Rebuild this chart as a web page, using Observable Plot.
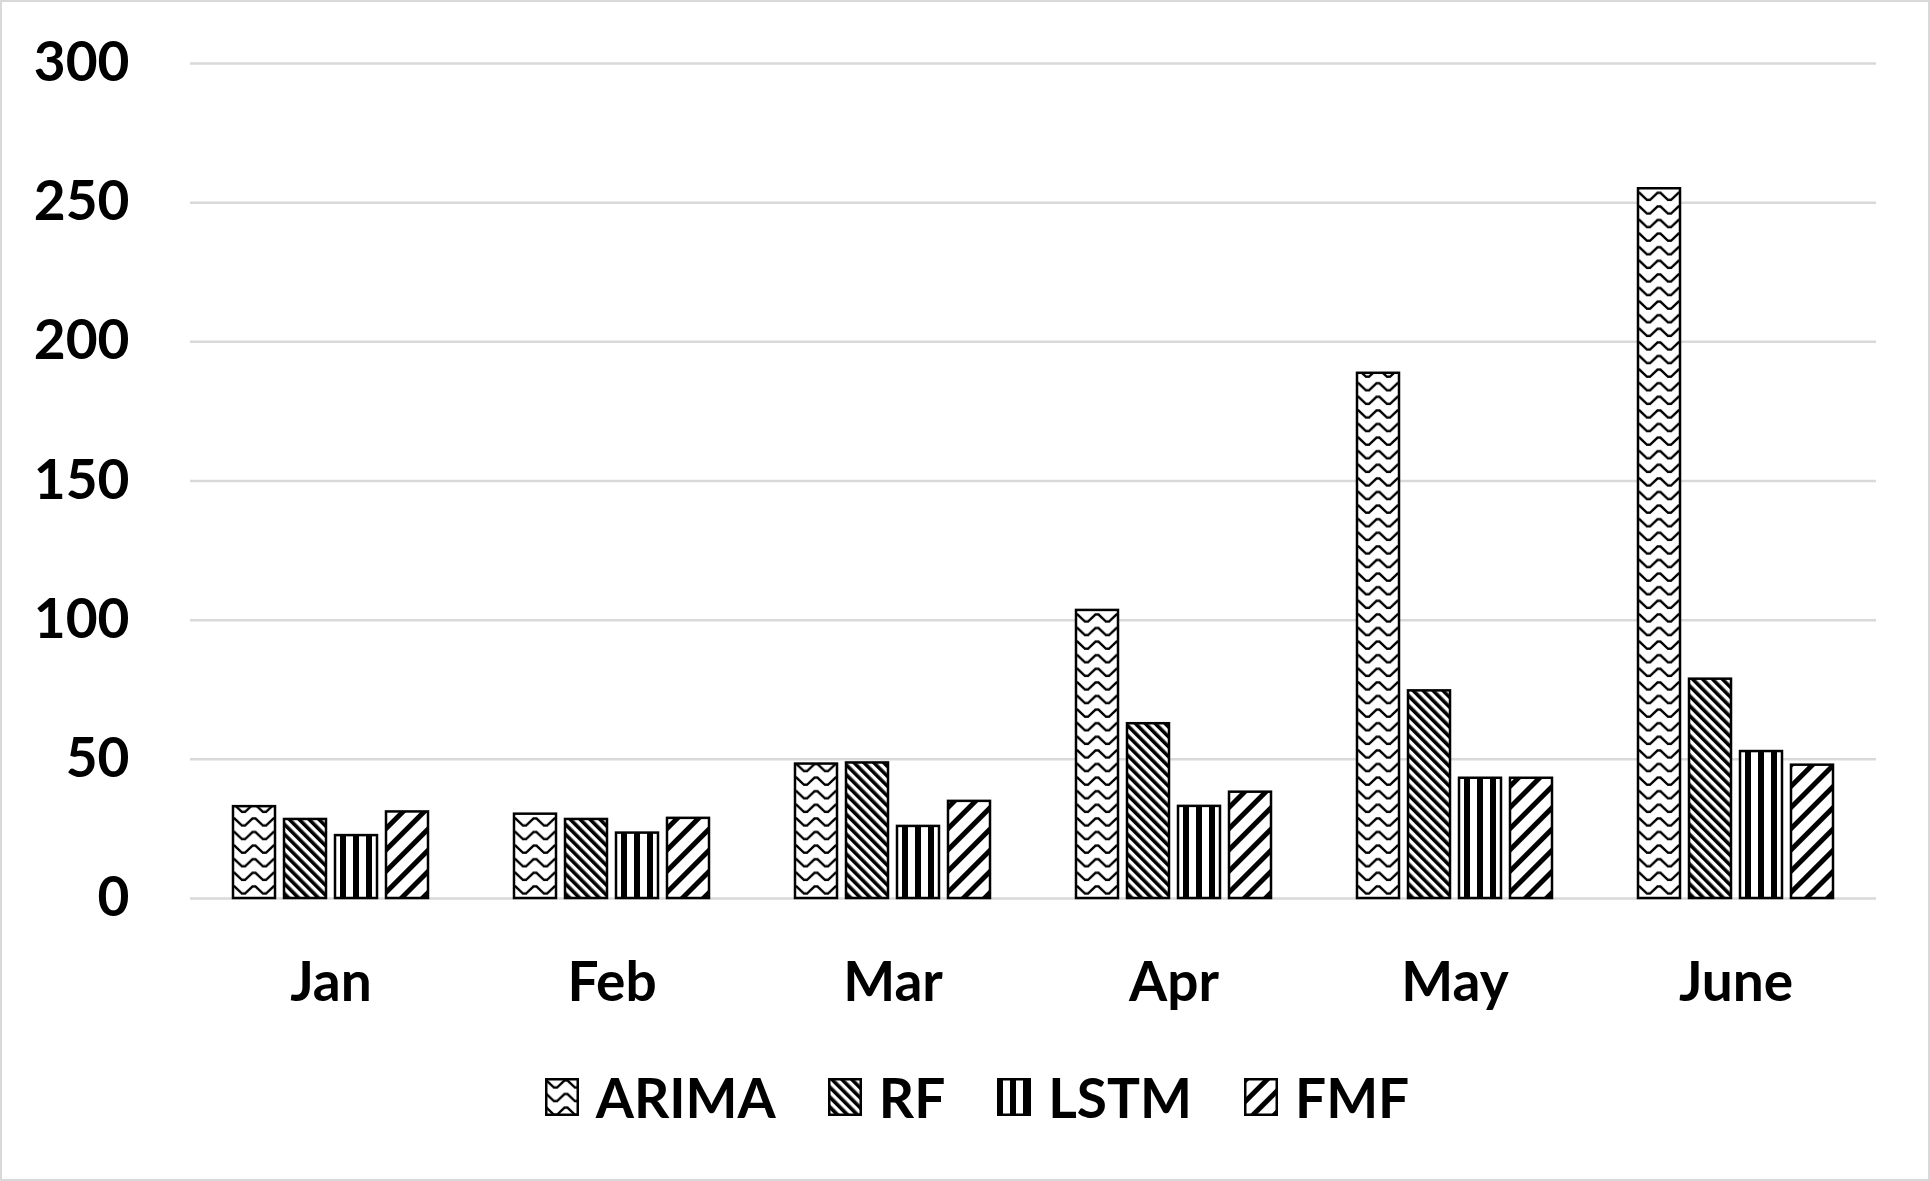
<!DOCTYPE html>
<html>
<head>
<meta charset="utf-8">
<script src="https://cdn.jsdelivr.net/npm/d3@7"></script>
<script src="https://cdn.jsdelivr.net/npm/@observablehq/plot@0.6"></script>
<style>
  html, body { margin: 0; padding: 0; background: #fff; }
  #wrap { position: relative; width: 1930px; height: 1181px; overflow: hidden; background: #fff; }
  #frame { position: absolute; left: 0; top: 0; width: 1930px; height: 1181px; box-sizing: border-box; border: 2px solid #d9d9d9; pointer-events: none; }
  #legend { position: absolute; left: 12px; top: 1078px; width: 1930px; height: 38px; display: flex; justify-content: center; align-items: center;
            font-family: Lato, sans-serif; font-weight: 700; font-size: 55px; color: #000; }
  .item { display: flex; align-items: center; margin: 0 26px; }
  .item svg { margin-right: 17px; overflow: visible; }
  .item span { line-height: 38px; }
</style>
</head>
<body>
<div id="wrap">
  <div id="chart"></div>
  <div id="legend"></div>
  <div id="frame"></div>
</div>
<script>
const months = ["Jan", "Feb", "Mar", "Apr", "May", "June"];
const series = ["ARIMA", "RF", "LSTM", "FMF"];
const arima = [33, 30.3, 48.3, 103.5, 188.7, 255];
const rf    = [28.4, 28.4, 48.7, 62.8, 74.6, 78.8];
const lstm  = [22.6, 23.5, 25.9, 33.1, 43.2, 52.8];
const fmf   = [31.1, 28.8, 34.9, 38.2, 43.2, 47.9];
const yTicks = [0, 50, 100, 150, 200, 250, 300];

const values = {ARIMA: arima, RF: rf, LSTM: lstm, FMF: fmf};
const rows = [];
months.forEach((m, i) => series.forEach(s => rows.push({month: m, series: s, value: values[s][i]})));

const patId = s => `pat-${s}`;

const svg = Plot.plot({
  width: 1930,
  height: 1050,
  marginLeft: 188,
  marginRight: 53,
  marginTop: 63,
  marginBottom: 152,
  style: {fontFamily: "Lato, sans-serif", fontSize: "55px", fontWeight: "700", color: "#000", background: "transparent", overflow: "visible"},
  fx: {domain: months, padding: 0, label: null},
  x: {domain: series, paddingInner: 0.17, paddingOuter: 0.82, axis: null},
  y: {domain: [0, 300], axis: null},
  marks: [
    Plot.gridY(yTicks, {stroke: "#d9d9d9", strokeOpacity: 1, strokeWidth: 2.5}),
    Plot.axisY(yTicks, {tickSize: 0, tickPadding: 61, label: null, fontSize: 55}),
    Plot.axisFx({anchor: "bottom", tickSize: 0, tickPadding: 63, label: null, fontSize: 55}),
    ...series.map(s => Plot.barY(rows.filter(r => r.series === s), {
      fx: "month", x: "series", y: "value",
      fill: `url(#${patId(s)})`, stroke: "#000", strokeWidth: 2.5
    }))
  ]
});

// Pattern definitions
const defs = d3.select(svg).insert("defs", ":first-child");
function pattern(id, w, h, transform) {
  const p = defs.append("pattern").attr("id", id).attr("patternUnits", "userSpaceOnUse")
    .attr("width", w).attr("height", h);
  if (transform) p.attr("patternTransform", transform);
  p.append("rect").attr("width", w).attr("height", h).attr("fill", "#fff");
  return p;
}
// ARIMA: zig zag rows (chevrons)
pattern(patId("ARIMA"), 21, 13.6).append("path")
  .attr("d", "M-1,2.5 H1.5 L9,9.5 H12 L19.5,2.5 H22")
  .attr("fill", "none").attr("stroke", "#000").attr("stroke-width", 2.4)
  .attr("stroke-linejoin", "miter");
// RF: dense "\" stripes
pattern(patId("RF"), 7, 7, "rotate(-45)").append("rect")
  .attr("x", 0).attr("y", 0).attr("width", 3.6).attr("height", 7).attr("fill", "#000");
// LSTM: vertical stripes
pattern(patId("LSTM"), 13, 13).append("rect")
  .attr("x", 0).attr("y", 0).attr("width", 6).attr("height", 13).attr("fill", "#000");
// FMF: wide "/" stripes
pattern(patId("FMF"), 15, 15, "rotate(45)").append("rect")
  .attr("x", 0).attr("y", 0).attr("width", 5).attr("height", 15).attr("fill", "#000");

document.getElementById("chart").appendChild(svg);

// Legend
const legend = d3.select("#legend");
series.forEach(s => {
  const item = legend.append("div").attr("class", "item");
  const sw = item.append("svg").attr("width", 34).attr("height", 38);
  sw.append("rect").attr("x", 1.25).attr("y", 1.25).attr("width", 31.5).attr("height", 35.5)
    .attr("fill", `url(#${patId(s)})`).attr("stroke", "#000").attr("stroke-width", 2.5);
  item.append("span").text(s);
});
</script>
</body>
</html>
